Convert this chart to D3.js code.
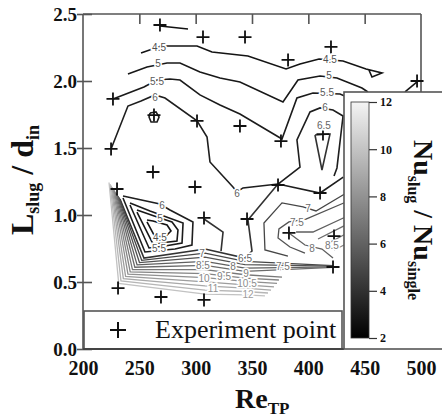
<!DOCTYPE html>
<html>
<head>
<meta charset="utf-8">
<script src="https://cdn.jsdelivr.net/npm/d3@7"></script>
<style>
  body { margin: 0; background: #fff; }
  svg { display: block; }
</style>
</head>
<body>
<div id="chart"></div>
<script>
// experiment points: Re_TP and L_slug / d_in
const pointRe = [268.3, 306.5, 343.8, 382.0, 420.1, 496.5, 226.6, 263.0, 301.2, 224.9, 262.1, 299.4, 230.2,
  339.3, 375.7, 373.1, 410.4, 307.4, 345.6, 382.8, 421.9, 231.1, 269.2, 307.4, 413.0, 422.8];
const pointL = [2.418, 2.328, 2.328, 2.157, 2.254, 2.000, 1.866, 1.746, 1.702, 1.493, 1.321, 1.209, 1.194,
  1.664, 1.552, 1.224, 1.164, 0.978, 0.970, 0.866, 0.612, 0.455, 0.388, 0.366, 1.604, 0.843];

// contour lines, [Re, L] vertices
const c40 = [[268.3, 2.410], [293.2, 2.388]];
const c45 = [[251.5, 2.209], [269.2, 2.261], [301.2, 2.261], [314.5, 2.216], [346.4, 2.187], [380.2, 2.090], [392.6, 2.127],
  [409.5, 2.164], [430.8, 2.149], [451.2, 2.090], [465.4, 2.060], [456.5, 2.030], [453.8, 2.082]];
const c50 = [[239.9, 2.052], [256.8, 2.104], [274.6, 2.134], [286.1, 2.134], [303.8, 2.067], [321.6, 2.022], [339.3, 1.993],
  [377.5, 1.843], [390.8, 2.007], [410.4, 2.037], [425.4, 2.022], [447.6, 1.948], [452.9, 1.918]];
const c50b = [[485.8, 1.918], [496.5, 1.993]];
const c55 = [[226.6, 1.866], [254.1, 1.955], [265.7, 2.007], [277.2, 2.015], [286.1, 2.007], [303.8, 1.896], [321.6, 1.821],
  [339.3, 1.754], [376.6, 1.567], [389.9, 1.873], [404.1, 1.910], [428.1, 1.903], [434.3, 1.881]];
const c60 = [[224.9, 1.493], [239.9, 1.813], [251.5, 1.851], [263.9, 1.896], [272.8, 1.873], [301.2, 1.702], [310.1, 1.582],
  [312.7, 1.396], [333.1, 1.209], [336.7, 1.172], [342.0, 1.202], [373.1, 1.231], [410.4, 1.164], [431.0, 1.282]];
const c60b = [[373.1, 1.231], [392.6, 1.358], [389.9, 1.560], [401.5, 1.769], [410.4, 1.799], [421.9, 1.784], [430.8, 1.739],
  [425.4, 1.351], [422.8, 1.291]];
const c60loop = [[259.5, 1.761], [264.8, 1.769], [267.5, 1.731], [265.7, 1.694], [260.4, 1.694], [258.6, 1.731], [259.5, 1.761]];
const c65tri = [[405.9, 1.597], [419.2, 1.604], [412.1, 1.336], [405.9, 1.597]];

// closed loops round the low spot
const k60 = [[235.5, 1.142], [268.3, 1.082], [277.2, 1.037], [297.6, 0.948], [296.7, 0.776], [281.7, 0.746], [255.0, 0.724], [235.5, 1.127]];
const k55 = [[241.7, 1.090], [259.5, 1.030], [288.8, 0.940], [287.9, 0.791], [272.8, 0.769], [258.6, 0.754], [241.7, 1.075]];
const k50 = [[247.9, 1.037], [268.3, 0.978], [279.0, 0.948], [284.3, 0.888], [283.4, 0.806], [268.3, 0.791], [262.1, 0.784], [247.9, 1.022]];
const k45 = [[256.8, 0.963], [262.1, 0.955], [274.6, 0.925], [278.1, 0.881], [273.7, 0.843], [263.9, 0.836], [256.8, 0.948]];

// the fan of lines at the bottom
const f65 = [[232.8, 1.119], [254.1, 0.679], [308.3, 0.746], [343.8, 0.679], [350.0, 0.731], [346.4, 0.963], [373.1, 1.231]];
const f70 = [[232.0, 1.131], [252.1, 0.662], [308.3, 0.716], [343.8, 0.654], [421.9, 0.622]];
const f75 = [[231.1, 1.142], [250.1, 0.645], [308.3, 0.685], [343.8, 0.629], [421.9, 0.618]];
const f80 = [[230.2, 1.153], [248.0, 0.628], [308.3, 0.654], [343.8, 0.604], [421.9, 0.613]];
const f85 = [[229.3, 1.164], [246.0, 0.610], [308.3, 0.624], [343.8, 0.579], [421.9, 0.609]];
const f90 = [[228.4, 1.175], [243.9, 0.593], [308.3, 0.593], [343.8, 0.554], [376.6, 0.537]];
const f95 = [[227.5, 1.187], [241.9, 0.576], [308.3, 0.563], [343.8, 0.529], [373.9, 0.515]];
const f100 = [[226.6, 1.198], [239.9, 0.559], [308.3, 0.532], [343.8, 0.504], [372.2, 0.489]];
const f105 = [[225.7, 1.209], [237.8, 0.542], [308.3, 0.501], [343.8, 0.479], [369.5, 0.463]];
const f110 = [[224.9, 1.220], [235.8, 0.525], [308.3, 0.471], [343.8, 0.454], [366.9, 0.440]];
const f115 = [[224.0, 1.231], [233.7, 0.508], [308.3, 0.440], [343.8, 0.429], [364.2, 0.418]];
const f120 = [[223.1, 1.243], [231.7, 0.490], [308.3, 0.410], [343.8, 0.404], [361.5, 0.396]];

// right hand lower part
const r70 = [[433.0, 1.160], [406.8, 1.030], [395.3, 1.060], [376.6, 1.090], [360.6, 0.940], [361.5, 0.739], [381.9, 0.694]];
const r75 = [[433.0, 1.095], [397.9, 0.970], [382.8, 0.948], [373.9, 0.896], [373.1, 0.828], [383.7, 0.761], [397.0, 0.716]];
const r80 = [[382.8, 0.866], [397.0, 0.776], [412.1, 0.746], [421.9, 0.679]];
const r80b = [[389.1, 0.873], [404.1, 0.873], [433.0, 0.985]];
const r85 = [[408.6, 0.821], [433.0, 0.925]];
const r90 = [[416.6, 0.784], [433.0, 0.858]];
const r95 = [[422.8, 0.739], [433.0, 0.782]];
const s65 = [[307.4, 0.970], [324.3, 0.873], [322.5, 0.731]];

const contourLevels = [4, 4.5, 5, 5, 5.5, 6, 6, 6, 6.5, 6, 5.5, 5, 4.5,
  6.5, 7, 7.5, 8, 8.5, 9, 9.5, 10, 10.5, 11, 11.5, 12,
  7, 7.5, 8, 8, 8.5, 9, 9.5, 6.5];
const contourLines = [c40, c45, c50, c50b, c55, c60, c60b, c60loop, c65tri, k60, k55, k50, k45,
  f65, f70, f75, f80, f85, f90, f95, f100, f105, f110, f115, f120,
  r70, r75, r80, r80b, r85, r90, r95, s65];

// contour labels
const labelText = ["4.5", "4.5", "5", "5", "5.5", "5.5", "6", "6", "6", "6.5", "6", "5", "4.5", "5.5",
  "7", "8.5", "10", "11", "9.5", "8", "9", "10.5", "12", "6.5", "7.5", "7", "7.5", "8", "8.5"];
const labelRe = [267.5, 419.2, 266.6, 418.3, 265.7, 416.6, 263.9, 336.7, 414.8, 413.9, 270.1, 268.3, 268.3, 267.5,
  305.6, 306.5, 307.4, 315.4, 325.2, 333.1, 344.7, 345.6, 346.4, 343.8, 377.5, 399.7, 389.9, 403.3, 421.0];
const labelL = [2.254, 2.164, 2.134, 2.045, 2.000, 1.918, 1.881, 1.164, 1.806, 1.672, 1.075, 0.978, 0.831, 0.750,
  0.716, 0.627, 0.530, 0.455, 0.545, 0.619, 0.563, 0.487, 0.405, 0.679, 0.619, 1.052, 0.948, 0.754, 0.776];

const xTicks = [200, 250, 300, 350, 400, 450, 500];
const topTicks = [250, 300, 350, 400, 450];
const yTicks = [0, 0.5, 1.0, 1.5, 2.0, 2.5];
const barTicks = [2, 4, 6, 8, 10, 12];

const serif = "'Liberation Serif', 'Times New Roman', serif";
const sans = "'Liberation Sans', Arial, sans-serif";

const svg = d3.select("#chart").append("svg")
  .attr("width", 442)
  .attr("height", 417)
  .style("background", "#fff");

const x = d3.scaleLinear().domain([200, 500]).range([83, 421]);
const y = d3.scaleLinear().domain([0, 2.5]).range([349, 14]);

const lineColor = d3.scaleLinear().domain([4, 6, 7, 12]).range(["#111", "#1e1e1e", "#464646", "#c2c2c2"]);
const labelColor = d3.scaleLinear().domain([4, 12]).range(["#4a4a4a", "#9c9c9c"]);

const line = d3.line().x(d => x(d[0])).y(d => y(d[1]));

// contours
svg.append("g")
  .selectAll("path")
  .data(contourLines)
  .enter()
  .append("path")
  .attr("d", line)
  .attr("fill", "none")
  .attr("stroke", (d, i) => lineColor(contourLevels[i]))
  .attr("stroke-width", (d, i) => contourLevels[i] <= 6.5 ? 1.6 : 1.3)
  .attr("stroke-linejoin", "miter");

// frame
const frame = svg.append("g")
  .attr("fill", "none")
  .attr("stroke", "#555")
  .attr("stroke-width", 1.6);
frame.append("line").attr("x1", x(200)).attr("x2", x(500)).attr("y1", y(2.5)).attr("y2", y(2.5));
frame.append("line").attr("x1", x(200)).attr("x2", x(200)).attr("y1", y(2.5)).attr("y2", y(0));
frame.append("line").attr("x1", x(500)).attr("x2", x(500)).attr("y1", y(2.5)).attr("y2", 92);

// top ticks, pointing inwards
const topAxis = svg.append("g")
  .attr("transform", `translate(0,${y(2.5)})`)
  .call(d3.axisBottom(x).tickValues(topTicks).tickSize(10).tickFormat(""));
topAxis.select(".domain").remove();
topAxis.selectAll("line").attr("stroke", "#555").attr("stroke-width", 1.6);

// left axis
const yAxis = svg.append("g")
  .attr("transform", `translate(${x(200)},0)`)
  .call(d3.axisLeft(y).tickValues(yTicks).tickSize(6).tickPadding(0).tickFormat(d3.format(".1f")));
yAxis.select(".domain").remove();
yAxis.selectAll("line").attr("x1", 9).attr("stroke", "#555").attr("stroke-width", 1.6);
yAxis.selectAll("text")
  .attr("font-family", serif)
  .attr("font-weight", "bold")
  .attr("font-size", "19px")
  .attr("fill", "#111");

// bottom tick labels
const xAxis = svg.append("g")
  .attr("transform", `translate(0,${y(0)})`)
  .call(d3.axisBottom(x).tickValues(xTicks).tickSize(0).tickPadding(12));
xAxis.select(".domain").remove();
xAxis.selectAll("text")
  .attr("font-family", serif)
  .attr("font-weight", "bold")
  .attr("font-size", "20px")
  .attr("fill", "#111");

// experiment points
const plus = (cx, cy, r) => `M${cx - r},${cy}H${cx + r}M${cx},${cy - r}V${cy + r}`;
svg.append("g")
  .selectAll("path")
  .data(pointRe)
  .enter()
  .append("path")
  .attr("d", (d, i) => plus(x(d), y(pointL[i]), 6.5))
  .attr("stroke", "#111")
  .attr("stroke-width", 1.8);

// contour labels, white halo cuts the line
svg.append("g")
  .selectAll("text")
  .data(labelText)
  .enter()
  .append("text")
  .attr("x", (d, i) => x(labelRe[i]))
  .attr("y", (d, i) => y(labelL[i]))
  .attr("dy", "0.36em")
  .attr("text-anchor", "middle")
  .attr("font-family", sans)
  .attr("font-size", "10px")
  .attr("fill", d => labelColor(+d))
  .attr("stroke", "#fff")
  .attr("stroke-width", 3)
  .attr("paint-order", "stroke")
  .text(d => d);

// legend
svg.append("rect")
  .attr("x", 84).attr("y", 311)
  .attr("width", 258).attr("height", 38)
  .attr("fill", "#fff")
  .attr("stroke", "#555")
  .attr("stroke-width", 1.6);
svg.append("path")
  .attr("d", plus(118, 330, 8))
  .attr("stroke", "#111")
  .attr("stroke-width", 2);
svg.append("text")
  .attr("x", 155).attr("y", 338)
  .attr("font-family", serif)
  .attr("font-size", "26px")
  .attr("fill", "#111")
  .text("Experiment point");
svg.append("line")
  .attr("x1", x(200)).attr("x2", 344).attr("y1", y(0)).attr("y2", y(0))
  .attr("stroke", "#444").attr("stroke-width", 2);

// colour bar
const cb = d3.scaleLinear().domain([2, 12]).range([338, 102]);
const cbColor = d3.scaleLinear().domain([2, 12]).range(["#000", "#f4f4f4"]);

svg.append("rect")
  .attr("x", 344).attr("y", 92)
  .attr("width", 120).attr("height", 257)
  .attr("fill", "#fff")
  .attr("stroke", "#555")
  .attr("stroke-width", 1.6);

const grad = svg.append("defs").append("linearGradient")
  .attr("id", "grey")
  .attr("x1", 0).attr("x2", 0).attr("y1", 1).attr("y2", 0);
grad.selectAll("stop")
  .data(barTicks)
  .enter()
  .append("stop")
  .attr("offset", d => (d - 2) / 10)
  .attr("stop-color", d => cbColor(d));

svg.append("rect")
  .attr("x", 351).attr("y", cb(12))
  .attr("width", 18).attr("height", cb(2) - cb(12))
  .attr("fill", "url(#grey)")
  .attr("stroke", "#333")
  .attr("stroke-width", 0.8);

const cbAxis = svg.append("g")
  .attr("transform", "translate(369,0)")
  .call(d3.axisRight(cb).tickValues(barTicks).tickSize(8).tickPadding(3));
cbAxis.select(".domain").remove();
cbAxis.selectAll("line").attr("stroke", "#333").attr("stroke-width", 1.2);
cbAxis.selectAll("text")
  .attr("font-family", serif)
  .attr("font-weight", "bold")
  .attr("font-size", "12px")
  .attr("fill", "#111");

// titles
const cbTitle = svg.append("text")
  .attr("transform", "translate(414,220) rotate(90)")
  .attr("text-anchor", "middle")
  .attr("font-family", serif)
  .attr("font-weight", "bold")
  .attr("font-size", "28px")
  .attr("fill", "#111");
cbTitle.append("tspan").text("Nu");
cbTitle.append("tspan").attr("font-size", "16px").attr("dy", 6).text("slug");
cbTitle.append("tspan").attr("dy", -6).text(" / Nu");
cbTitle.append("tspan").attr("font-size", "16px").attr("dy", 6).text("single");

const yTitle = svg.append("text")
  .attr("transform", "translate(33,180) rotate(-90)")
  .attr("text-anchor", "middle")
  .attr("font-family", serif)
  .attr("font-weight", "bold")
  .attr("font-size", "32px")
  .attr("fill", "#111");
yTitle.append("tspan").text("L");
yTitle.append("tspan").attr("font-size", "18px").attr("dy", 6).text("slug");
yTitle.append("tspan").attr("dy", -6).text(" / d");
yTitle.append("tspan").attr("font-size", "18px").attr("dy", 6).text("in");

const xTitle = svg.append("text")
  .attr("x", 235).attr("y", 408)
  .attr("font-family", serif)
  .attr("font-weight", "bold")
  .attr("font-size", "28px")
  .attr("fill", "#111");
xTitle.append("tspan").text("Re");
xTitle.append("tspan").attr("font-size", "17px").attr("dy", 6).text("TP");
</script>
</body>
</html>
